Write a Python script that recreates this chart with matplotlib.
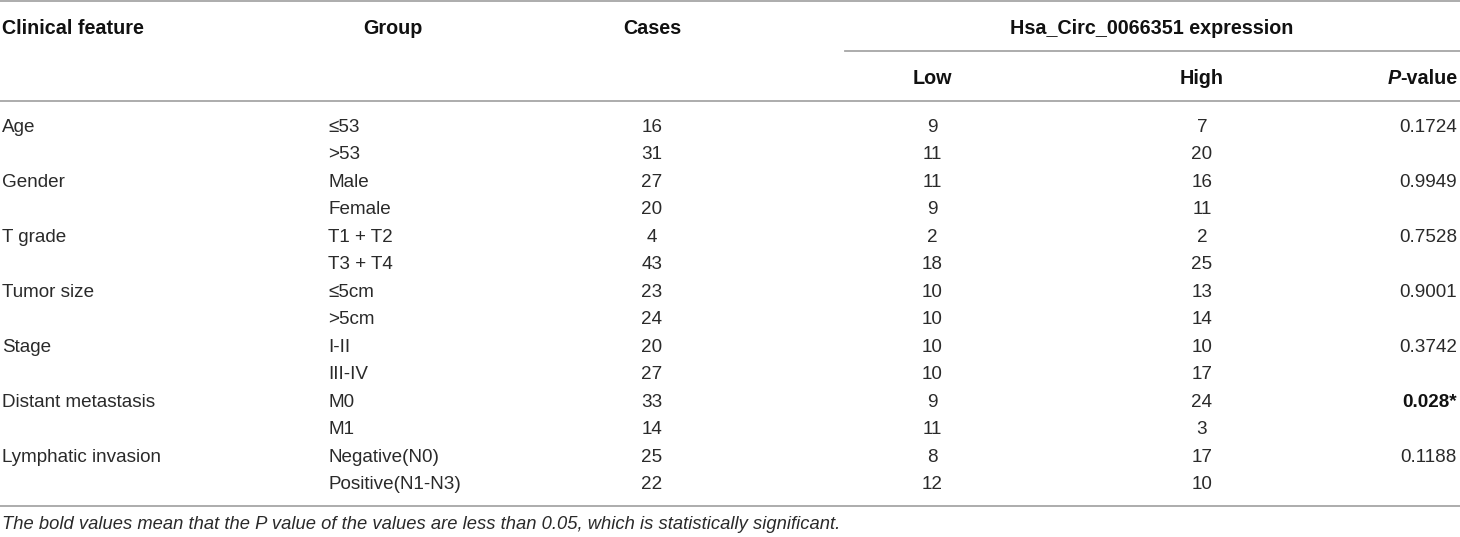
import matplotlib
matplotlib.use("Agg")
import matplotlib.pyplot as plt

plt.rcParams['font.family'] = ['Liberation Sans', 'DejaVu Sans']

# table content
features = ["Age", "", "Gender", "", "T grade", "", "Tumor size", "",
            "Stage", "", "Distant metastasis", "", "Lymphatic invasion", ""]
groups = ["≤53", ">53", "Male", "Female", "T1 + T2", "T3 + T4", "≤5cm", ">5cm",
          "I-II", "III-IV", "M0", "M1", "Negative(N0)", "Positive(N1-N3)"]
cases = [16, 31, 27, 20, 4, 43, 23, 24, 20, 27, 33, 14, 25, 22]
low = [9, 11, 11, 9, 2, 18, 10, 10, 10, 10, 9, 11, 8, 12]
high = [7, 20, 16, 11, 2, 25, 13, 14, 10, 17, 24, 3, 17, 10]
pvalues = ["0.1724", "", "0.9949", "", "0.7528", "", "0.9001", "",
           "0.3742", "", "0.028*", "", "0.1188", ""]
significant = ["0.028*"]
footnote = ("The bold values mean that the P value of the values are less than 0.05, "
            "which is statistically significant.")

W, H = 1460, 537
fig = plt.figure(figsize=(W / 100, H / 100), dpi=100)
fig.patch.set_facecolor('white')
ax = fig.add_axes([0, 0, 1, 1])
ax.set_xlim(0, W)
ax.set_ylim(H, 0)
ax.axis('off')

fs = 13.6
fs_head = 14.2
txt_color = '#2a2a2a'
line_color = '#a6a6a6'
off = 6.8  # centre -> baseline

# column anchors (pixels)
x_feat = 2
x_group = 328
x_group_head = 393
x_cases = 652
x_low = 932
x_high = 1202
x_p = 1457

# rules
ax.plot([0, W], [1, 1], color=line_color, lw=1.3)
ax.plot([845, W], [51, 51], color=line_color, lw=1.3)
ax.plot([0, W], [101, 101], color=line_color, lw=1.3)
ax.plot([0, W], [506, 506], color=line_color, lw=1.3)

# header
hk = dict(fontsize=fs_head, fontweight='bold', color='#111111', va='baseline')
ax.text(x_feat, 27 + off, "Clinical feature", ha='left', **hk)
ax.text(x_group_head, 27 + off, "Group", ha='center', **hk)
ax.text(x_cases, 27 + off, "Cases", ha='center', **hk)
ax.text(1152, 27 + off, "Hsa_Circ_0066351 expression", ha='center', **hk)
ax.text(x_low, 77 + off, "Low", ha='center', **hk)
ax.text(x_high, 77 + off, "High", ha='center', **hk)
t_val = ax.text(x_p, 77 + off, "-value", ha='right', **hk)
fig.canvas.draw()
bb = t_val.get_window_extent(renderer=fig.canvas.get_renderer())
ax.text(bb.x0 + 1, 77 + off, "P", ha='right', fontstyle='italic', **hk)

# body rows
y0, dy = 125, 27.5
bk = dict(fontsize=fs, color=txt_color, va='baseline')
for i in range(len(groups)):
    y = y0 + i * dy + off
    ax.text(x_feat, y, features[i], ha='left', **bk)
    ax.text(x_group, y, groups[i], ha='left', **bk)
    ax.text(x_cases, y, str(cases[i]), ha='center', **bk)
    ax.text(x_low, y, str(low[i]), ha='center', **bk)
    ax.text(x_high, y, str(high[i]), ha='center', **bk)
    if pvalues[i]:
        w = 'bold' if pvalues[i] in significant else 'normal'
        c = '#111111' if w == 'bold' else txt_color
        ax.text(x_p, y, pvalues[i], ha='right', fontsize=fs, color=c,
                va='baseline', fontweight=w)

# footnote
ax.text(x_feat, 522 + off, footnote, ha='left', fontsize=13.2, color=txt_color,
        va='baseline', fontstyle='italic')

fig.savefig("out.png", dpi=100, facecolor='white')
